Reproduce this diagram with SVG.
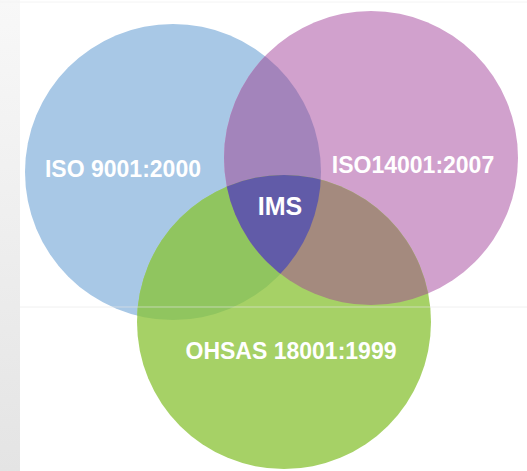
<svg xmlns="http://www.w3.org/2000/svg" width="527" height="471" viewBox="0 0 527 471">
<defs>
<linearGradient id="strip" x1="0" y1="0" x2="0" y2="1">
<stop offset="0" stop-color="#f8f8f8"/>
<stop offset="1" stop-color="#e4e4e4"/>
</linearGradient>
<clipPath id="cBlue"><circle cx="173" cy="172" r="148"/></clipPath>
<clipPath id="cPink"><circle cx="371" cy="158" r="147"/></clipPath>
<clipPath id="cGreen"><circle cx="284" cy="322" r="147"/></clipPath>
</defs>
<style>
.lbl{font-family:"Liberation Sans",Arial,sans-serif;font-weight:bold;fill:#ffffff;text-anchor:middle}
</style>
<rect x="0" y="0" width="527" height="471" fill="#ffffff"/>
<rect x="0" y="0" width="20" height="471" fill="url(#strip)"/>
<line x1="0" y1="2" x2="527" y2="2" stroke="#f4f4f4" stroke-width="1"/>
<g id="iso9001">
<circle cx="173" cy="172" r="148" fill="#a8c8e6"/>
</g>
<g id="iso14001">
<circle cx="371" cy="158" r="147" fill="#d1a1cd"/>
</g>
<g id="ohsas">
<circle cx="284" cy="322" r="147" fill="#a6d166"/>
</g>
<g id="overlaps">
<g clip-path="url(#cBlue)"><circle cx="371" cy="158" r="147" fill="#a384bb"/></g>
<g clip-path="url(#cBlue)"><circle cx="284" cy="322" r="147" fill="#90c55f"/></g>
<g clip-path="url(#cPink)"><circle cx="284" cy="322" r="147" fill="#a48a7e"/></g>
<g clip-path="url(#cBlue)"><g clip-path="url(#cPink)"><circle cx="284" cy="322" r="147" fill="#615ba8"/></g></g>
</g>
<line x1="20" y1="307" x2="527" y2="307" stroke="#e6e6e6" stroke-opacity="0.6" stroke-width="1"/>
<text class="lbl" x="123" y="177" font-size="23">ISO 9001:2000</text>
<text class="lbl" x="413" y="173" font-size="23">ISO14001:2007</text>
<g id="ims"><text class="lbl" x="280" y="215" font-size="25">IMS</text></g>
<text class="lbl" x="291" y="359" font-size="23">OHSAS 18001:1999</text>
</svg>
